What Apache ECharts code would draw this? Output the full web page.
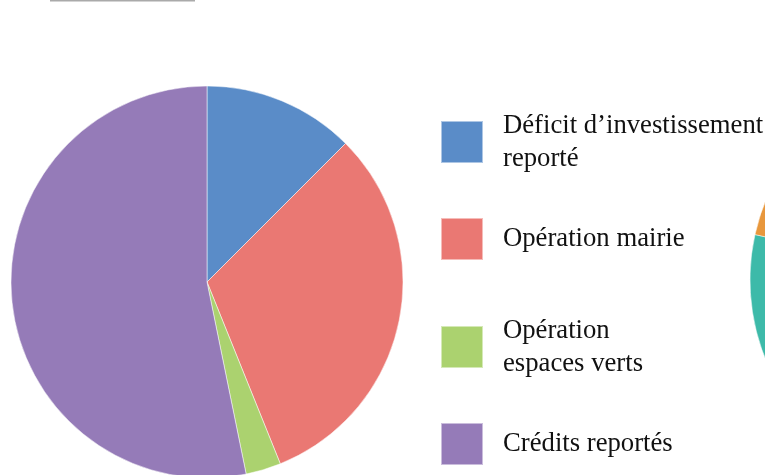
<!DOCTYPE html>
<html>
<head>
<meta charset="utf-8">
<script src="https://cdn.jsdelivr.net/npm/echarts@6/dist/echarts.min.js"></script>
<style>
  html, body { margin: 0; padding: 0; background: #fff; }
  #chart { width: 765px; height: 475px; }
</style>
</head>
<body>
<div id="chart"></div>
<script>
// main pie: share of each expense (percent)
const categories = [
  "Déficit d’investissement\nreporté",
  "Opération mairie",
  "Opération\nespaces verts",
  "Crédits reportés",
];
const values = [12.5, 31.4, 2.9, 53.2];
const colors = ["#5a8cc8", "#ea7873", "#abd26f", "#957bb8"];

// neighbouring pie, only its left edge shows at the right border
const sideNames = ["Autres", "Part turquoise", "Part orange", "Reste"];
const sideValues = [150, 132.5, 47.5, 30];
const sideColors = ["#d9d9d9", "#3dbaa9", "#e8973c", "#cccccc"];

// legend rows: top offset of each row
const legendTops = [109, 217, 314, 422];

const chart = echarts.init(document.getElementById("chart"));

const legendStyle = {
  fontFamily: "Liberation Serif",
  fontSize: 26.7,
  lineHeight: 33,
  color: "#111",
  padding: [0, 0, 0, 15],
};

chart.setOption({
  animation: false,
  backgroundColor: "#fff",
  legend: categories.map((name, i) => ({
    data: [name],
    orient: "vertical",
    left: 440,
    top: legendTops[i],
    padding: 0,
    icon: "rect",
    itemWidth: 42,
    itemHeight: 42,
    selectedMode: false,
    textStyle: legendStyle,
  })),
  graphic: [
    {
      type: "line",
      shape: { x1: 50, y1: 0.5, x2: 195, y2: 0.5 },
      style: { stroke: "#aaa", lineWidth: 2 },
    },
  ],
  series: [
    {
      type: "pie",
      center: [207, 282],
      radius: 196,
      startAngle: 90,
      clockwise: true,
      label: { show: false },
      labelLine: { show: false },
      emphasis: { disabled: true },
      itemStyle: { borderColor: "rgba(255,255,255,0.5)", borderWidth: 1 },
      data: categories.map((name, i) => ({
        name,
        value: values[i],
        itemStyle: { color: colors[i] },
      })),
    },
    {
      type: "pie",
      center: [960, 280],
      radius: 210,
      startAngle: 90,
      clockwise: true,
      label: { show: false },
      labelLine: { show: false },
      emphasis: { disabled: true },
      itemStyle: { borderColor: "rgba(255,255,255,0.5)", borderWidth: 1 },
      data: sideNames.map((name, i) => ({
        name,
        value: sideValues[i],
        itemStyle: { color: sideColors[i] },
      })),
    },
  ],
});
</script>
</body>
</html>
